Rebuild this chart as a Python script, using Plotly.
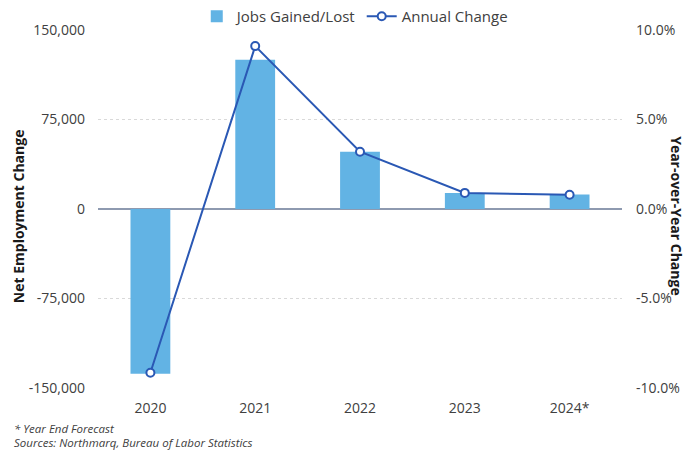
import plotly.graph_objects as go

# Annual employment data
years = ["2020", "2021", "2022", "2023", "2024*"]
jobs_change = [-138000, 125000, 48000, 13400, 12200]
annual_change_pct = [-9.15, 9.1, 3.2, 0.9, 0.8]

left_ticks = [-150000, -75000, 0, 75000, 150000]
left_ticktext = [f"{v:,}" for v in left_ticks]
right_ticks = [-10, -5, 0, 5, 10]
right_ticktext = [f"{v:.1f}%" for v in right_ticks]

FONT = "Open Sans"
TXT = "#404040"
BAR_COLOR = "#62b3e4"
LINE_COLOR = "#2a58b4"

fig = go.Figure()
fig.add_trace(go.Bar(
    x=years, y=jobs_change, name="Jobs Gained/Lost",
    marker=dict(color=BAR_COLOR, line=dict(width=0)),
    yaxis="y",
))
fig.add_trace(go.Scatter(
    x=years, y=annual_change_pct, name="Annual Change",
    mode="lines+markers",
    line=dict(color=LINE_COLOR, width=2),
    marker=dict(symbol="circle", size=8, color="white",
                line=dict(color=LINE_COLOR, width=2)),
    yaxis="y2",
))

fig.update_layout(
    width=686, height=451,
    margin=dict(l=98, r=64, t=30, b=63, autoexpand=False),
    paper_bgcolor="white", plot_bgcolor="white",
    font=dict(family=FONT, size=14, color=TXT),
    bargap=0.62,
    showlegend=True,
    legend=dict(orientation="h", x=0.49, xanchor="center",
                yref="container", y=1.0, yanchor="top",
                font=dict(size=15, color=TXT), itemwidth=30, tracegroupgap=0,
                bgcolor="rgba(0,0,0,0)"),
    xaxis=dict(showgrid=False, showline=False, zeroline=False, ticks="",
               tickfont=dict(size=14, color=TXT), ticklabelstandoff=10),
    yaxis=dict(range=[-150000, 150000], tickvals=left_ticks, ticktext=left_ticktext,
               showgrid=True, gridcolor="#d9d9d9", griddash="dot", gridwidth=1,
               zeroline=True, zerolinecolor="#8e9ab0", zerolinewidth=1.5,
               showline=False, ticks="", ticklabelstandoff=12,
               tickfont=dict(size=14, color=TXT)),
    yaxis2=dict(range=[-10, 10], tickvals=right_ticks, ticktext=right_ticktext,
                overlaying="y", side="right", showgrid=False, zeroline=False,
                showline=False, ticks="", ticklabelstandoff=13,
                tickfont=dict(size=14, color=TXT)),
    annotations=[
        dict(text="<b>Net Employment Change</b>", textangle=-90,
             xref="paper", yref="paper", x=(18 - 98) / 524, y=0.48,
             xanchor="center", yanchor="middle", showarrow=False,
             font=dict(size=14, color="#1a1a1a")),
        dict(text="<b>Year-over-Year Change</b>", textangle=90,
             xref="paper", yref="paper", x=(677 - 98) / 524, y=0.48,
             xanchor="center", yanchor="middle", showarrow=False,
             font=dict(size=14, color="#1a1a1a")),
        dict(text="<i>* Year End Forecast</i>",
             xref="paper", yref="paper", x=(12 - 98) / 524, y=(388 - 429) / 358,
             xanchor="left", yanchor="middle", showarrow=False,
             font=dict(size=11.5, color=TXT)),
        dict(text="<i>Sources: Northmarq, Bureau of Labor Statistics</i>",
             xref="paper", yref="paper", x=(12 - 98) / 524, y=(388 - 442) / 358,
             xanchor="left", yanchor="middle", showarrow=False,
             font=dict(size=11.5, color=TXT)),
    ],
)

fig.write_html("out.html")
